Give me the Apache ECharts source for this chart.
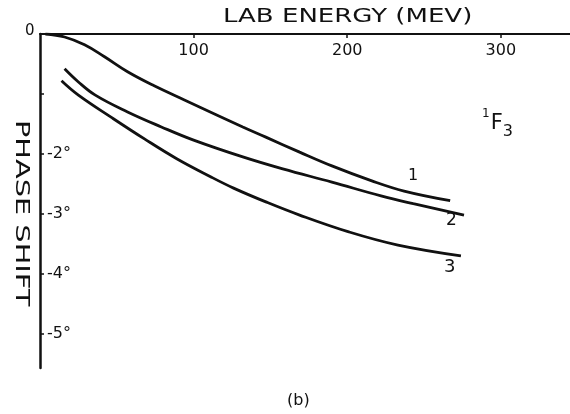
<!DOCTYPE html>
<html><head><meta charset="utf-8">
<script src="https://cdn.jsdelivr.net/npm/echarts@6/dist/echarts.min.js"></script>
<style>html,body{margin:0;padding:0;background:#fff}#c{width:570px;height:414px}</style>
</head><body><div id="c"></div>
<script>
// energies (MeV) and phase shifts (deg)
const curve1X = [3.5, 16, 29, 42, 57, 74, 94, 115, 132, 147, 169, 190, 216, 237, 267];
const curve1Y = [0, -0.05, -0.18, -0.38, -0.63, -0.86, -1.1, -1.35, -1.55, -1.72, -1.97, -2.2, -2.45, -2.62, -2.78];
const curve2X = [16, 25, 36, 57, 79, 100, 132, 158, 190, 222, 243, 276];
const curve2Y = [-0.58, -0.8, -1.02, -1.3, -1.55, -1.77, -2.05, -2.25, -2.47, -2.7, -2.83, -3.02];
const curve3X = [14, 25, 47, 68, 89, 111, 126, 147, 169, 201, 233, 274];
const curve3Y = [-0.78, -1.02, -1.4, -1.75, -2.08, -2.38, -2.57, -2.8, -3.02, -3.3, -3.52, -3.7];
const xTicks = [100, 200, 300];
const yTicks = [-1, -2, -3, -4, -5];
const yLabels = [-2, -3, -4, -5];

const pair = (xs, ys) => xs.map((x, i) => [x, ys[i]]);
const font = '"DejaVu Sans", sans-serif';
const chart = echarts.init(document.getElementById('c'));
const lineSeries = (d) => ({
  type: 'line', data: d, smooth: 0.4, symbol: 'none',
  lineStyle: { color: '#111', width: 2.8 }, animation: false
});
chart.setOption({
  backgroundColor: '#fff',
  animation: false,
  grid: { left: 40, right: 0, top: 34, bottom: 46, containLabel: false },
  xAxis: {
    type: 'value', position: 'top', min: 0, max: 345,
    splitLine: { show: false },
    axisLine: { lineStyle: { color: '#111', width: 2 } },
    axisTick: { show: true, inside: true, length: 4, customValues: xTicks, lineStyle: { color: '#111', width: 1.5 } },
    axisLabel: { inside: true, customValues: xTicks, margin: 9, fontFamily: font, fontSize: 16, color: '#111' }
  },
  yAxis: {
    type: 'value', min: -5.57, max: 0,
    splitLine: { show: false },
    axisLine: { onZero: false, lineStyle: { color: '#111', width: 2.5 } },
    axisTick: { show: true, inside: true, length: 4, customValues: yTicks, lineStyle: { color: '#111', width: 1.5 } },
    axisLabel: { inside: true, customValues: yLabels, margin: 7, fontFamily: font, fontSize: 16, color: '#111',
      formatter: v => '-' + Math.abs(v) + '°' }
  },
  series: [lineSeries(pair(curve1X, curve1Y)), lineSeries(pair(curve2X, curve2Y)), lineSeries(pair(curve3X, curve3Y))],
  graphic: [
    { type: 'text', x: 223, y: 17, scaleX: 1.3,
      style: { text: 'LAB ENERGY (MEV)', font: '20px ' + font, fill: '#111', align: 'left', verticalAlign: 'middle' } },
    { type: 'text', left: 25, top: 24, style: { text: '0', font: '15px ' + font, fill: '#111' } },
    { type: 'text', x: 21, y: 120, rotation: -Math.PI / 2, scaleX: 1.44,
      style: { text: 'PHASE SHIFT', font: '20px ' + font, fill: '#111',
        align: 'left', verticalAlign: 'middle' } },
    { type: 'text', left: 408, top: 168, style: { text: '1', font: '16px ' + font, fill: '#111' } },
    { type: 'text', left: 446, top: 212, style: { text: '2', font: '17px ' + font, fill: '#111' } },
    { type: 'text', left: 444, top: 258, style: { text: '3', font: '18px ' + font, fill: '#111' } },
    { type: 'text', left: 482, top: 108, style: {
        text: '{s|1}{f|F}{b|3}',
        rich: {
          s: { font: '12px ' + font, fill: '#111', verticalAlign: 'top', padding: [0, 1, 14, 0] },
          f: { font: '21px ' + font, fill: '#111' },
          b: { font: '16px ' + font, fill: '#111', padding: [16, 0, 0, 0] }
        } } },
    { type: 'text', left: 287, top: 393, style: { text: '(b)', font: '16px ' + font, fill: '#111' } }
  ]
});
</script></body></html>
